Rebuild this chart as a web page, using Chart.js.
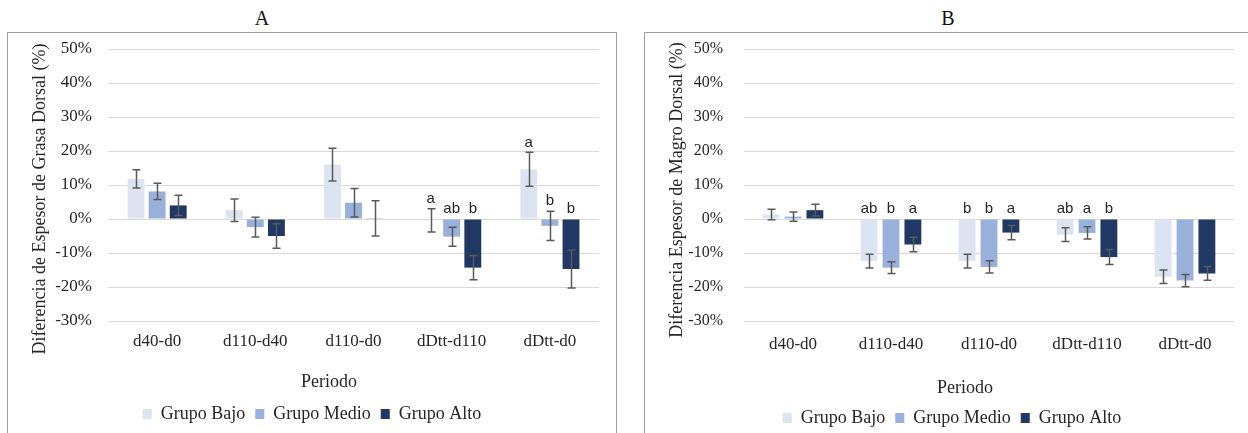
<!DOCTYPE html>
<html><head><meta charset="utf-8">
<script src="https://cdn.jsdelivr.net/npm/chart.js@4.4.0/dist/chart.umd.min.js"></script>
<style>
html,body{margin:0;padding:0;background:#fff;width:1248px;height:433px;overflow:hidden;position:relative;}
.box{position:absolute;top:32px;height:430px;border:1px solid #9c9c9c;border-bottom:none;box-sizing:border-box;}
.ptitle{position:absolute;top:6px;line-height:24px;font-family:"Liberation Serif",serif;font-size:20px;color:#111;transform:translateX(-50%);}
canvas{position:absolute;}
</style></head>
<body>
<div class="ptitle" style="left:262px">A</div>
<div class="ptitle" style="left:948px">B</div>
<div class="box" style="left:7px;width:610px"></div>
<div class="box" style="left:644px;width:640px"></div>
<canvas id="cA" width="608" height="400" style="left:8px;top:33px"></canvas>
<canvas id="cB" width="614" height="404" style="left:645px;top:33px"></canvas>
<script>
// ---- data ----
const categories = ['d40-d0', 'd110-d40', 'd110-d0', 'dDtt-d110', 'dDtt-d0'];
const seriesNames = ['Grupo Bajo', 'Grupo Medio', 'Grupo Alto'];
const yTicks = [-30, -20, -10, 0, 10, 20, 30, 40, 50];

// Panel A: Diferencia de Espesor de Grasa Dorsal (%)
const grasaBajo  = [11.8,  2.6, 16.0,  -0.4,  14.6];
const grasaMedio = [ 8.1, -2.4,  4.8,  -5.2,  -2.0];
const grasaAlto  = [ 4.0, -5.0,  0.2, -14.3, -14.7];
const grasaBajoErr  = [2.7, 3.3, 4.8, 3.4, 5.0];
const grasaMedioErr = [2.4, 2.9, 4.2, 2.8, 4.3];
const grasaAltoErr  = [3.0, 3.6, 5.2, 3.6, 5.6];
const grasaBajoSig  = ['', '', '', 'a', 'a'];
const grasaMedioSig = ['', '', '', 'ab', 'b'];
const grasaAltoSig  = ['', '', '', 'b', 'b'];

// Panel B: Diferencia Espesor de Magro Dorsal (%)
const magroBajo  = [1.3, -12.4, -12.4,  -4.6, -17.0];
const magroMedio = [0.7, -14.3, -14.1,  -4.1, -18.1];
const magroAlto  = [2.6,  -7.5,  -4.0, -11.2, -16.0];
const magroBajoErr  = [1.55, 2.0, 2.0, 2.0, 2.0];
const magroMedioErr = [1.35, 1.7, 1.8, 1.8, 1.8];
const magroAltoErr  = [1.75, 2.1, 2.1, 2.2, 2.0];
const magroBajoSig  = ['', 'ab', 'b', 'ab', ''];
const magroMedioSig = ['', 'b', 'b', 'a', ''];
const magroAltoSig  = ['', 'a', 'a', 'b', ''];

const colors = ['#dde4f1', '#98b0da', '#1f3864'];
const SERIF = '"Liberation Serif", "Times New Roman", serif';
Chart.defaults.font.family = SERIF;

const extrasPlugin = {
  id: 'extras',
  afterDatasetsDraw(chart, args, opts) {
    const ctx = chart.ctx, y = chart.scales.y;
    chart.data.datasets.forEach((ds, di) => {
      const meta = chart.getDatasetMeta(di);
      meta.data.forEach((bar, i) => {
        const v = ds.data[i], e = opts.errors[di][i];
        const yt = y.getPixelForValue(v + e), yb = y.getPixelForValue(v - e);
        const x = Math.round(bar.x) + 0.5;
        ctx.save();
        ctx.strokeStyle = '#5a5a5a';
        ctx.lineWidth = 1.5;
        ctx.beginPath();
        ctx.moveTo(x, yt); ctx.lineTo(x, yb);
        ctx.moveTo(x - 4, yt); ctx.lineTo(x + 4, yt);
        ctx.moveTo(x - 4, yb); ctx.lineTo(x + 4, yb);
        ctx.stroke();
        const s = opts.sig[di][i];
        if (s) {
          ctx.fillStyle = '#262626';
          ctx.font = '15px "Liberation Sans", Arial, sans-serif';
          ctx.textAlign = 'center';
          ctx.textBaseline = 'middle';
          ctx.fillText(s, bar.x, y.getPixelForValue(Math.max(0, v + e)) - 10);
        }
        ctx.restore();
      });
    });
  },
  afterDraw(chart, args, opts) {
    const ctx = chart.ctx;
    ctx.save();
    ctx.fillStyle = '#262626';
    ctx.font = '18px ' + SERIF;
    ctx.textAlign = 'center';
    ctx.textBaseline = 'middle';
    ctx.fillText(opts.xTitle.text, opts.xTitle.x, opts.xTitle.y);
    ctx.translate(opts.yTitle.x, opts.yTitle.y);
    ctx.rotate(-Math.PI / 2);
    ctx.fillText(opts.yTitle.text, 0, 0);
    ctx.restore();
  }
};

function makeChart(id, vals, errs, sigs, cfg) {
  return new Chart(document.getElementById(id), {
    type: 'bar',
    data: {
      labels: categories,
      datasets: seriesNames.map((n, k) => ({
        label: n, data: vals[k], backgroundColor: colors[k], borderWidth: 0,
        categoryPercentage: cfg.catPct, barPercentage: cfg.barPct
      }))
    },
    options: {
      responsive: false, animation: false,
      layout: { padding: { left: cfg.padSide, right: cfg.padSide, top: 16, bottom: 0 } },
      plugins: {
        legend: {
          position: 'bottom',
          labels: { font: { family: SERIF, size: 18 }, color: '#262626', boxWidth: 9, boxHeight: 10, padding: 10 }
        },
        tooltip: { enabled: false },
        extras: { errors: errs, sig: sigs, xTitle: cfg.xTitle, yTitle: cfg.yTitle }
      },
      scales: {
        x: {
          grid: { display: false, drawTicks: false }, border: { display: false },
          ticks: { font: { family: SERIF, size: 17 }, color: '#262626', padding: cfg.xPad, autoSkip: false, maxRotation: 0 },
          afterFit: s => { s.height = cfg.xHeight; }
        },
        y: {
          min: yTicks[0], max: yTicks[yTicks.length - 1],
          afterBuildTicks: s => { s.ticks = yTicks.map(v => ({ value: v })); },
          grid: { color: '#d9d9d9', lineWidth: 1, drawTicks: true, tickLength: cfg.yGap, tickColor: 'rgba(0,0,0,0)' },
          border: { display: false },
          ticks: { font: { family: SERIF, size: cfg.yFont }, color: '#262626', padding: 0, callback: v => v + '%' },
          afterFit: s => { s.width = cfg.yWidth; }
        }
      }
    },
    plugins: [extrasPlugin]
  });
}

makeChart('cA',
  [grasaBajo, grasaMedio, grasaAlto],
  [grasaBajoErr, grasaMedioErr, grasaAltoErr],
  [grasaBajoSig, grasaMedioSig, grasaAltoSig],
  { catPct: 0.645, barPct: 0.8, padSide: 17, xPad: 10, xHeight: 74, yWidth: 83, yGap: 16, yFont: 17,
    xTitle: { text: 'Periodo', x: 321, y: 349 },
    yTitle: { text: 'Diferencia de Espesor de Grasa Dorsal (%)', x: 32, y: 166 } });

makeChart('cB',
  [magroBajo, magroMedio, magroAlto],
  [magroBajoErr, magroMedioErr, magroAltoErr],
  [magroBajoSig, magroMedioSig, magroAltoSig],
  { catPct: 0.67, barPct: 0.77, padSide: 25, xPad: 13, xHeight: 78, yWidth: 74, yGap: 21, yFont: 16,
    xTitle: { text: 'Periodo', x: 320, y: 355 },
    yTitle: { text: 'Diferencia Espesor de Magro Dorsal (%)', x: 32, y: 157 } });
</script>
</body></html>
